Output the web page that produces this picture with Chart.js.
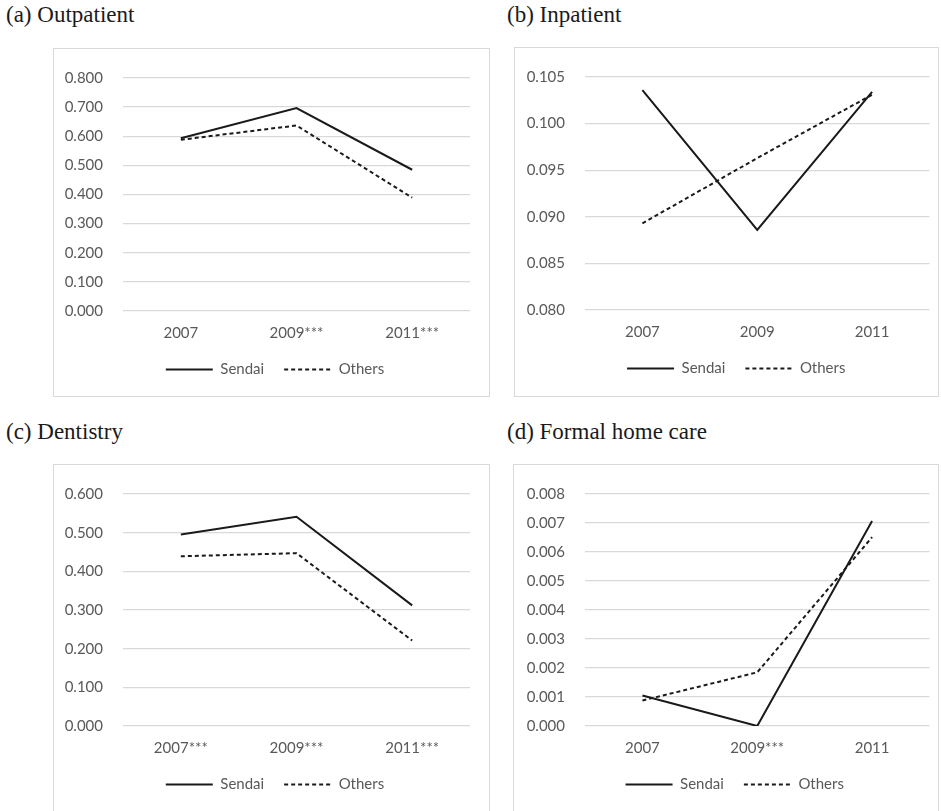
<!DOCTYPE html>
<html><head><meta charset="utf-8">
<script src="https://cdn.jsdelivr.net/npm/chart.js@4.4.0/dist/chart.umd.min.js"></script>
<style>
html,body{margin:0;padding:0;background:#fff;width:941px;height:811px;overflow:hidden;position:relative;}
.title{position:absolute;font-family:"Liberation Serif","Times New Roman",serif;font-size:23px;line-height:23px;color:#1a1a1a;white-space:nowrap;}
.box{position:absolute;border:1px solid #d9d9d9;box-sizing:border-box;background:#fff;}
.box canvas{position:absolute;left:0;top:0;}
</style></head><body>
<div class="title" style="left:6px;top:3px">(a) Outpatient</div>
<div class="title" style="left:507px;top:3px">(b) Inpatient</div>
<div class="title" style="left:6px;top:420px">(c) Dentistry</div>
<div class="title" style="left:507px;top:420px">(d) Formal home care</div>
<div class="box" style="left:53px;top:48px;width:437px;height:349px"><canvas id="cA" width="435" height="347"></canvas></div>
<div class="box" style="left:514px;top:47px;width:425px;height:350px"><canvas id="cB" width="423" height="348"></canvas></div>
<div class="box" style="left:53px;top:464px;width:437px;height:349px"><canvas id="cC" width="435" height="347"></canvas></div>
<div class="box" style="left:513px;top:464px;width:426px;height:349px"><canvas id="cD" width="424" height="347"></canvas></div>
<script>
// Categories (x tick labels) per panel
const outpatientLabels = ['2007', '2009***', '2011***'];
const inpatientLabels = ['2007', '2009', '2011'];
const dentistryLabels = ['2007***', '2009***', '2011***'];
const homeCareLabels = ['2007', '2009***', '2011'];

// Series values
const outpatientSendai = [0.593, 0.697, 0.485];
const outpatientOthers = [0.588, 0.637, 0.389];
const inpatientSendai = [0.1036, 0.0886, 0.1034];
const inpatientOthers = [0.0893, 0.0963, 0.1031];
const dentistrySendai = [0.495, 0.541, 0.312];
const dentistryOthers = [0.439, 0.447, 0.221];
const homeCareSendai = [0.00105, 0.0000, 0.00707];
const homeCareOthers = [0.00088, 0.00185, 0.00651];

// Y axis ranges [min, max, step]
const outpatientRange = [0, 0.8, 0.1];
const inpatientRange = [0.08, 0.105, 0.005];
const dentistryRange = [0, 0.6, 0.1];
const homeCareRange = [0, 0.008, 0.001];

const seriesNames = ['Sendai', 'Others'];

const FONT = {family: 'Lato, "Open Sans", sans-serif', size: 15};
const TXT = '#595959';

function makeChart(id, labels, s1, s2, range, layout) {
  const ctx = document.getElementById(id);
  return new Chart(ctx, {
    type: 'line',
    data: {
      labels: labels,
      datasets: [
        {label: seriesNames[0], data: s1, borderColor: '#1a1a1a', backgroundColor: '#1a1a1a',
         borderWidth: 2, pointRadius: 0, tension: 0, fill: false},
        {label: seriesNames[1], data: s2, borderColor: '#1a1a1a', backgroundColor: '#1a1a1a',
         borderWidth: 2, borderDash: [4, 3], pointRadius: 0, tension: 0, fill: false}
      ]
    },
    plugins: [{
      id: 'legendShift',
      afterLayout: function(chart) {
        const lg = chart.legend;
        if (lg) { lg.left += layout.legendDx; lg.right += layout.legendDx; }
      }
    }],
    options: {
      responsive: false,
      animation: false,
      devicePixelRatio: 1,
      layout: {padding: {top: layout.top, right: layout.right, bottom: layout.bottom, left: 0}},
      plugins: {
        tooltip: {enabled: false},
        legend: {
          position: 'bottom',
          labels: {
            usePointStyle: true,
            pointStyle: 'line',
            pointStyleWidth: 47,
            padding: 20,
            color: TXT,
            font: FONT,
            generateLabels: function(chart) {
              const items = Chart.defaults.plugins.legend.labels.generateLabels(chart);
              items.forEach(function(it) {
                const ds = chart.data.datasets[it.datasetIndex];
                it.lineDash = ds.borderDash || [];
                it.lineWidth = ds.borderWidth;
                it.strokeStyle = ds.borderColor;
                it.pointStyle = 'line';
              });
              return items;
            }
          }
        }
      },
      scales: {
        x: {
          offset: true,
          grid: {display: false, drawTicks: false},
          border: {display: false},
          ticks: {color: TXT, font: FONT, padding: 13, maxRotation: 0, autoSkip: false},
          afterFit: function(a) { a.height = 31; }
        },
        y: {
          min: range[0], max: range[1],
          grid: {color: '#d9d9d9', lineWidth: 1.3, drawTicks: false},
          border: {display: false},
          ticks: {stepSize: range[2], color: TXT, font: FONT, padding: 20,
                  callback: function(v) { return Number(v).toFixed(3); }},
          afterFit: function(a) { a.width = layout.yWidth; }
        }
      }
    }
  });
}

makeChart('cA', outpatientLabels, outpatientSendai, outpatientOthers, outpatientRange,
          {top: 20, right: 19, bottom: 9, yWidth: 69, legendDx: 13});
makeChart('cB', inpatientLabels, inpatientSendai, inpatientOthers, inpatientRange,
          {top: 20, right: 8.5, bottom: 10, yWidth: 70, legendDx: 14});
makeChart('cC', dentistryLabels, dentistrySendai, dentistryOthers, dentistryRange,
          {top: 20, right: 19, bottom: 10, yWidth: 69, legendDx: 13});
makeChart('cD', homeCareLabels, homeCareSendai, homeCareOthers, homeCareRange,
          {top: 19, right: 8.5, bottom: 10, yWidth: 71, legendDx: 13});
</script>
</body></html>
